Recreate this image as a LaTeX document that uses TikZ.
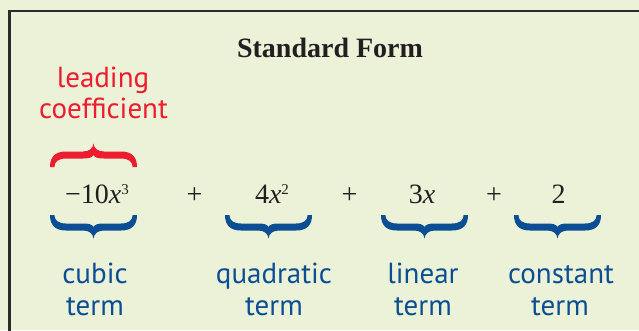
\documentclass[tikz,border=0pt]{standalone}
\usepackage{fontspec}
\setmainfont{Liberation Serif}
\setsansfont{PT Sans}
\definecolor{bgc}{HTML}{EBF2D8}
\definecolor{redc}{HTML}{ED1C2E}
\definecolor{bluec}{HTML}{0C4E94}
\definecolor{inkc}{HTML}{231F20}
\definecolor{framec}{HTML}{2B2B2B}
\newcommand{\supfig}[1]{\raisebox{9pt}{\fontsize{15}{15}\selectfont #1}}
\tikzset{
  curlybrace/.pic={
    \fill (0,0) .. controls (0,10) and (5,15.5) .. (16,15.5)
      -- (33,15.5) .. controls (39,15.5) and (43,18.5) .. (43.5,23.5)
      .. controls (44,18.5) and (48,15.5) .. (54,15.5)
      -- (71,15.5) .. controls (82,15.5) and (87,10) .. (87,0)
      -- (82.6,0) .. controls (82.6,5) and (79,8.5) .. (71,8.5)
      -- (54,8.5) .. controls (48,8.5) and (44.5,9.5) .. (43.5,12)
      .. controls (42.5,9.5) and (39,8.5) .. (33,8.5)
      -- (16,8.5) .. controls (8,8.5) and (4.4,5) .. (4.4,0) -- cycle;
  },
  titletxt/.style={font=\bfseries\fontsize{28}{28}\selectfont, text=inkc, anchor=base, inner sep=0pt},
  mathtxt/.style={font=\fontsize{28}{28}\selectfont, text=inkc, anchor=base, inner sep=0pt},
  redlabel/.style={font=\sffamily\fontsize{29}{29}\selectfont, text=redc, anchor=base, inner sep=0pt},
  bluelabel/.style={font=\sffamily\fontsize{29}{29}\selectfont, text=bluec, anchor=base, inner sep=0pt},
}
\begin{document}
\begin{tikzpicture}[x=1pt,y=-1pt]
  \useasboundingbox (0,0) rectangle (639,330);
  \clip (0,0) rectangle (639,330);
  \fill[bgc] (0,0) rectangle (639,330);
  \draw[framec, line width=2.6pt] (9.6,345) -- (9.6,11) -- (660,11);

  \node[titletxt] (title) at (330,57) {Standard Form};

  \node[redlabel] (lead1) at (103,87) {leading};
  \node[redlabel] (lead2) at (103.5,118) {coefficient};
  \pic[color=redc, yscale=-1] (leadbrace) at (50,167) {curlybrace};

  \node[mathtxt] (t1) at (97,203) {−10\textit{x}\supfig{3}};
  \node[mathtxt] (p1) at (194.5,203) {+};
  \node[mathtxt] (t2) at (272,203) {4\textit{x}\supfig{2}};
  \node[mathtxt] (p2) at (349.5,203) {+};
  \node[mathtxt] (t3) at (422,203) {3\textit{x}};
  \node[mathtxt] (p3) at (494,203) {+};
  \node[mathtxt] (t4) at (558.5,203) {2};

  \pic[color=bluec] (b1) at (50,215) {curlybrace};
  \pic[color=bluec] (b2) at (225,215) {curlybrace};
  \pic[color=bluec] (b3) at (381,215) {curlybrace};
  \pic[color=bluec] (b4) at (514,215) {curlybrace};

  \node[bluelabel] (c1) at (95,283) {cubic};
  \node[bluelabel] (c2) at (95,315) {term};
  \node[bluelabel] (q1) at (274,283) {quadratic};
  \node[bluelabel] (q2) at (274,315) {term};
  \node[bluelabel] (l1) at (423,283) {linear};
  \node[bluelabel] (l2) at (423,315) {term};
  \node[bluelabel] (k1) at (561,283) {constant};
  \node[bluelabel] (k2) at (560,315) {term};
\end{tikzpicture}
\end{document}
